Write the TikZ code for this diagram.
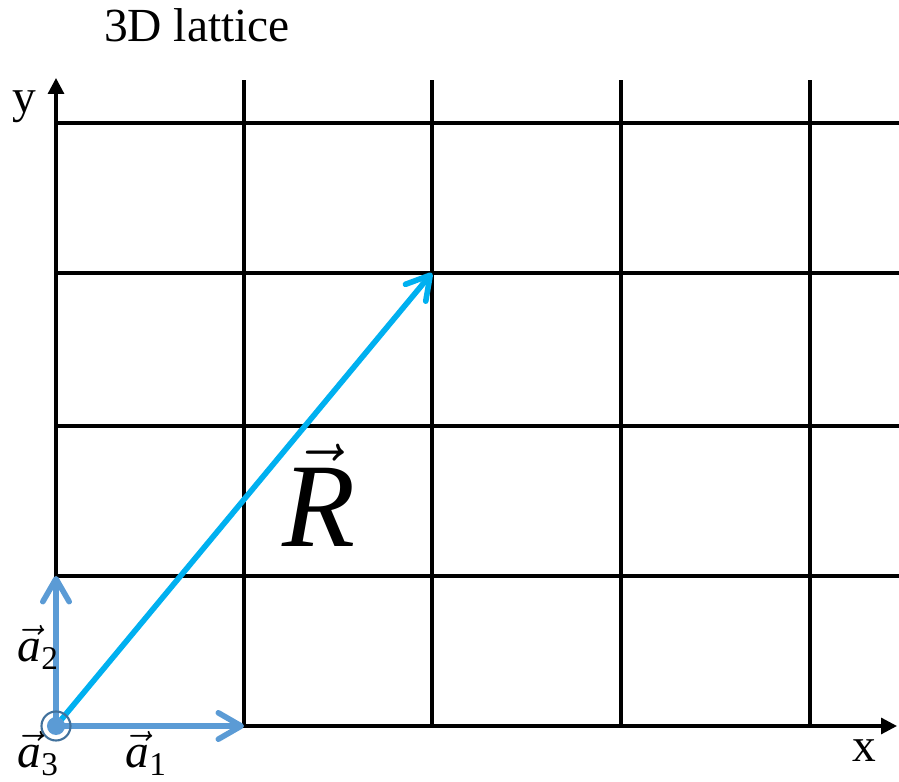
\documentclass[tikz,border=0pt]{standalone}
\usepackage{amsmath}
\usepackage{fontspec}
\setmainfont{Liberation Serif}
\usepackage{xcolor}
\usetikzlibrary{arrows.meta}
\definecolor{latblue}{HTML}{5B9BD5}
\definecolor{latcyan}{HTML}{00B0F0}
\definecolor{latdark}{HTML}{41719C}
\tikzset{
  gridline/.style={line width=0.9pt, black},
  axis/.style={gridline, -{Triangle[length=4.5pt, width=4.5pt]}},
  basis/.style={line width=1.6pt, latblue, -{Straight Barb[length=6.5pt, width=7.5pt, round]}},
  lattvec/.style={line width=1.6pt, latcyan, -{Straight Barb[length=6.5pt, width=7.5pt, round]}},
  lbl/.style={inner sep=0pt, anchor=base, font=\fontsize{13.5}{16}\selectfont},
}

\begin{document}
\begin{tikzpicture}[x=0.01cm, y=-0.01cm]
  \useasboundingbox (0,0) rectangle (899,782);

  %% === Use pixel-like coordinates for the lattice ===

  % Origin and axis ends
  \coordinate (O) at (56,726);
  \coordinate (xend) at (897,726);
  \coordinate (yend) at (56,78);

  % Vertical lines: bottom / top ends
  \coordinate (v1b) at (244,726); \coordinate (v1t) at (244,80);
  \coordinate (v2b) at (432,726); \coordinate (v2t) at (432,80);
  \coordinate (v3b) at (621,726); \coordinate (v3t) at (621,80);
  \coordinate (v4b) at (810,726); \coordinate (v4t) at (810,80);

  % Horizontal lines: left / right ends
  \coordinate (h1l) at (56,576); \coordinate (h1r) at (899,576);
  \coordinate (h2l) at (56,426); \coordinate (h2r) at (899,426);
  \coordinate (h3l) at (56,273); \coordinate (h3r) at (899,273);
  \coordinate (h4l) at (56,123); \coordinate (h4r) at (899,123);

  % Lattice point reached by R
  \coordinate (P) at (432,273);

  % Grid
  \draw[gridline] (v1b) -- (v1t);
  \draw[gridline] (v2b) -- (v2t);
  \draw[gridline] (v3b) -- (v3t);
  \draw[gridline] (v4b) -- (v4t);
  \draw[gridline] (h1l) -- (h1r);
  \draw[gridline] (h2l) -- (h2r);
  \draw[gridline] (h3l) -- (h3r);
  \draw[gridline] (h4l) -- (h4r);

  % Axes
  \draw[axis] (O) -- (xend);
  \draw[axis] (O) -- (yend);

  % Lattice vector R
  \draw[lattvec] (O) -- (P);

  % Basis vectors a1, a2
  \draw[basis] (O) -- (v1b);
  \draw[basis] (O) -- (h1l);

  % a3 pointing out of the page
  \node[circle, draw=latdark, line width=0.6pt, inner sep=0pt, minimum size=0.29cm] (a3ring) at (O) {};
  \node[circle, fill=latblue, inner sep=0pt, minimum size=0.18cm] (a3dot) at (O) {};

  %% === Labels ===
  \node[lbl] (ttl) at (197,42) {3D lattice};
  \node[lbl] (ylab) at (24,113) {y};
  \node[lbl] (xlab) at (864,762) {x};
  \node[lbl, anchor=base west] (a2lab) at (17,662) {$\vec{\textit{a}}_{\text{2}}$};
  \node[lbl, anchor=base west] (a3lab) at (17,768) {$\vec{\textit{a}}_{\text{3}}$};
  \node[lbl, anchor=base west] (a1lab) at (125,768) {$\vec{\textit{a}}_{\text{1}}$};
  \node[lbl, font=\fontsize{34}{40}\selectfont] (Rlab) at (319,547) {$\vec{\textit{R}}$};

\end{tikzpicture}
\end{document}
